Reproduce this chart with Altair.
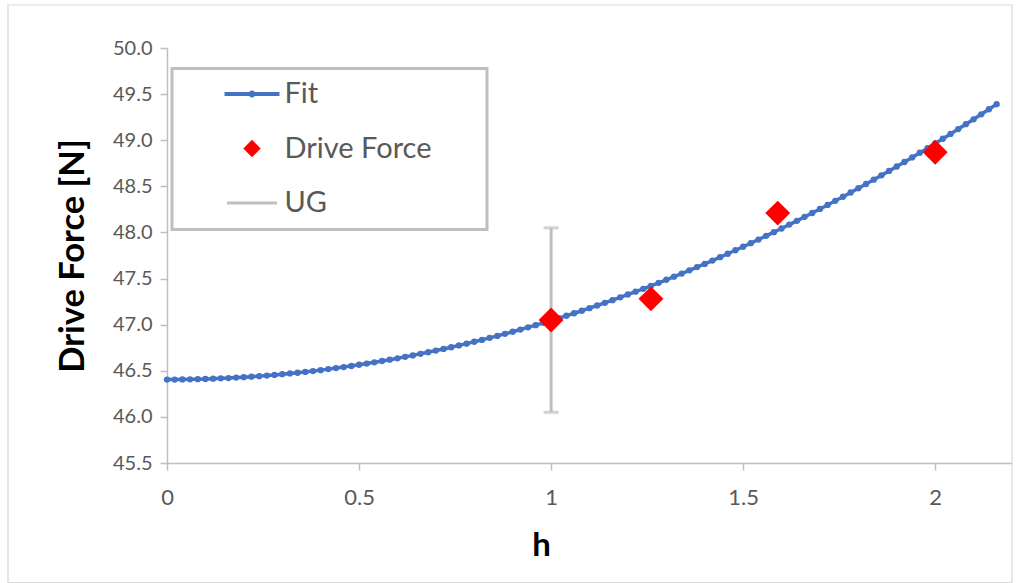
import altair as alt
import numpy as np
import pandas as pd

# ---------------- data ----------------
fit_h = [0.00, 0.02, 0.04, 0.06, 0.08, 0.10, 0.12, 0.14, 0.16, 0.18,
         0.20, 0.22, 0.24, 0.26, 0.28, 0.30, 0.32, 0.34, 0.36, 0.38,
         0.40, 0.42, 0.44, 0.46, 0.48, 0.50, 0.52, 0.54, 0.56, 0.58,
         0.60, 0.62, 0.64, 0.66, 0.68, 0.70, 0.72, 0.74, 0.76, 0.78,
         0.80, 0.82, 0.84, 0.86, 0.88, 0.90, 0.92, 0.94, 0.96, 0.98,
         1.00, 1.02, 1.04, 1.06, 1.08, 1.10, 1.12, 1.14, 1.16, 1.18,
         1.20, 1.22, 1.24, 1.26, 1.28, 1.30, 1.32, 1.34, 1.36, 1.38,
         1.40, 1.42, 1.44, 1.46, 1.48, 1.50, 1.52, 1.54, 1.56, 1.58,
         1.60, 1.62, 1.64, 1.66, 1.68, 1.70, 1.72, 1.74, 1.76, 1.78,
         1.80, 1.82, 1.84, 1.86, 1.88, 1.90, 1.92, 1.94, 1.96, 1.98,
         2.00, 2.02, 2.04, 2.06, 2.08, 2.10, 2.12, 2.14, 2.16]
fit_force = [46.405, 46.405, 46.406, 46.407, 46.409, 46.411, 46.414, 46.418, 46.421, 46.426,
             46.431, 46.436, 46.442, 46.448, 46.455, 46.463, 46.471, 46.479, 46.488, 46.497,
             46.507, 46.518, 46.529, 46.540, 46.552, 46.565, 46.578, 46.592, 46.606, 46.620,
             46.635, 46.651, 46.667, 46.684, 46.701, 46.719, 46.737, 46.755, 46.775, 46.794,
             46.815, 46.835, 46.857, 46.878, 46.901, 46.923, 46.947, 46.971, 46.995, 47.020,
             47.045, 47.071, 47.097, 47.124, 47.151, 47.179, 47.208, 47.237, 47.266, 47.296,
             47.327, 47.358, 47.389, 47.421, 47.454, 47.487, 47.520, 47.554, 47.589, 47.624,
             47.659, 47.695, 47.732, 47.769, 47.807, 47.845, 47.884, 47.923, 47.963, 48.003,
             48.043, 48.085, 48.126, 48.169, 48.211, 48.255, 48.298, 48.343, 48.387, 48.433,
             48.479, 48.525, 48.572, 48.619, 48.667, 48.715, 48.764, 48.814, 48.864, 48.914,
             48.965, 49.016, 49.068, 49.121, 49.174, 49.227, 49.281, 49.336, 49.391]

drive_h = [1.00, 1.26, 1.59, 2.00]
drive_force = [47.05, 47.28, 48.21, 48.87]

ug_h = [1.00]
ug_center = [47.05]
ug_err = [1.00]

series_names = ["Fit", "Drive Force", "UG"]
series_colors = ["#4472c4", "#ff0000", "#bfbfbf"]

x_ticks = [0, 0.5, 1, 1.5, 2]
y_ticks = [45.5, 46.0, 46.5, 47.0, 47.5, 48.0, 48.5, 49.0, 49.5, 50.0]

# ---------------- tables ----------------
fit_df = pd.DataFrame({"h": fit_h, "F": fit_force})
drive_df = pd.DataFrame({"h": drive_h, "F": drive_force})
ug_df = pd.DataFrame({"h": ug_h, "c": ug_center, "e": ug_err})
ug_df["lo"] = ug_df["c"] - ug_df["e"]
ug_df["hi"] = ug_df["c"] + ug_df["e"]
legend_df = pd.DataFrame({"series": series_names,
                          "h": [np.nan] * 3, "F": [np.nan] * 3})
frame_df = pd.DataFrame({"k": [0]})

FONT = "Lato"
GREY = "#595959"
AXIS_GREY = "#bfbfbf"

x_scale = alt.Scale(domain=[0, 2.2], nice=False, zero=False)
y_scale = alt.Scale(domain=[45.5, 50.0], nice=False, zero=False)

x_axis = alt.Axis(values=x_ticks, format="~g", grid=False, tickSize=7,
                  labelPadding=17.5, labelFontSize=22, labelFont=FONT,
                  labelColor=GREY, labelFlush=False, labelOverlap=False,
                  domainColor=AXIS_GREY, tickColor=AXIS_GREY,
                  domainWidth=1.5, tickWidth=1.5,
                  title="h", titleFont=FONT, titleFontSize=33,
                  titleFontWeight="bold", titleColor="black",
                  titleBaseline="alphabetic", titleAlign="center",
                  titleX=374, titleY=92)
y_axis = alt.Axis(values=y_ticks, format=".1f", grid=False, tickSize=7,
                  labelPadding=8, labelFontSize=20, labelFont=FONT,
                  labelColor=GREY, labelFlush=False, labelOverlap=False,
                  domainColor=AXIS_GREY, tickColor=AXIS_GREY,
                  domainWidth=1.5, tickWidth=1.5,
                  title="Drive Force [N]", titleFont=FONT, titleFontSize=34.5,
                  titleFontWeight="bold", titleColor="black",
                  titleBaseline="alphabetic", titleAlign="center",
                  titleX=-84)

# legend symbols (custom paths, unit = half of the 20px symbol box)
fit_path = ("M-2.75,-0.2H2.75V0.2H-2.75Z "
            "M0.35,0A0.35,0.35 0 1,1 -0.35,0A0.35,0.35 0 1,1 0.35,0Z")
diamond_path = "M0,-0.87L0.87,0L0,0.87L-0.87,0Z"
ug_path = "M-2.5,-0.15H2.5V0.15H-2.5Z"
legend_shapes = [fit_path, diamond_path, ug_path]

legend = alt.Legend(title="\u00a0", titleOrient="right", titleFontSize=1,
                    titlePadding=45, orient="none", legendX=5, legendY=20.5,
                    direction="vertical", zindex=0,
                    strokeColor=AXIS_GREY, fillColor="white",
                    padding=11, rowPadding=24.5, symbolSize=400,
                    symbolOffset=54.5, symbolStrokeWidth=0,
                    labelOffset=18, labelFontSize=29, labelLimit=400,
                    labelFont=FONT, labelColor=GREY)

# ---------------- layers ----------------
frame = alt.Chart(frame_df).mark_rect(
    fill="transparent", stroke="#d9d9d9", strokeWidth=1.2
).encode(x=alt.value(-159), x2=alt.value(845),
         y=alt.value(-43), y2=alt.value(534.5))

ug_bar = alt.Chart(ug_df).mark_rule(color=AXIS_GREY, strokeWidth=3).encode(
    x=alt.X("h:Q", scale=x_scale, axis=x_axis),
    y=alt.Y("lo:Q", scale=y_scale, axis=y_axis),
    y2="hi:Q")
ug_cap_lo = alt.Chart(ug_df).mark_tick(color=AXIS_GREY, orient="horizontal",
                                       size=15, thickness=3).encode(
    x=alt.X("h:Q", scale=x_scale), y=alt.Y("lo:Q", scale=y_scale))
ug_cap_hi = alt.Chart(ug_df).mark_tick(color=AXIS_GREY, orient="horizontal",
                                       size=15, thickness=3).encode(
    x=alt.X("h:Q", scale=x_scale), y=alt.Y("hi:Q", scale=y_scale))

fit_line = alt.Chart(fit_df).mark_line(
    color="#4472c4", strokeWidth=3.5,
    point=alt.OverlayMarkDef(filled=True, size=40, color="#4472c4")
).encode(x=alt.X("h:Q", scale=x_scale), y=alt.Y("F:Q", scale=y_scale))

drive_pts = alt.Chart(drive_df).mark_point(
    shape="diamond", filled=True, color="#ff0000", size=620, opacity=1
).encode(x=alt.X("h:Q", scale=x_scale), y=alt.Y("F:Q", scale=y_scale))

legend_layer = alt.Chart(legend_df).mark_point(filled=True, opacity=1).encode(
    x=alt.X("h:Q", scale=x_scale),
    y=alt.Y("F:Q", scale=y_scale),
    color=alt.Color("series:N",
                    scale=alt.Scale(domain=series_names, range=series_colors),
                    legend=legend),
    shape=alt.Shape("series:N",
                    scale=alt.Scale(domain=series_names, range=legend_shapes),
                    legend=legend))

chart = alt.layer(
    frame, ug_bar, ug_cap_lo, ug_cap_hi, fit_line, drive_pts, legend_layer
).properties(
    width=845, height=415,
    autosize=alt.AutoSizeParams(type="none"),
    padding={"left": 167, "top": 48, "right": 23, "bottom": 120},
    background="white",
).configure_view(stroke=None).configure_legend(strokeWidth=3)

chart.save("out.html", embed_options={"renderer": "svg", "actions": False})
